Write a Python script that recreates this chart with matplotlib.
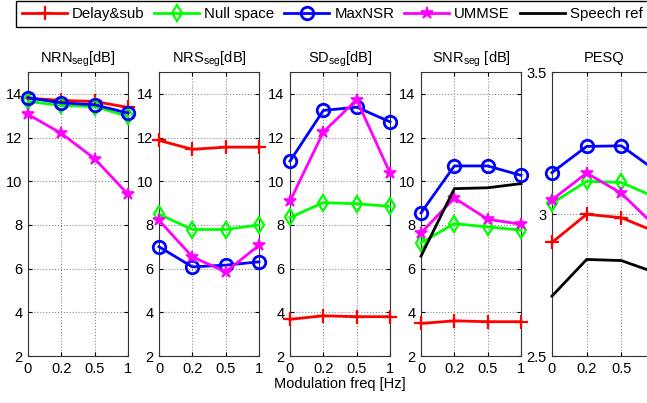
import numpy as np
import matplotlib
matplotlib.use('Agg')
import matplotlib.pyplot as plt

plt.rcParams['font.family'] = ['Liberation Sans', 'DejaVu Sans']
plt.rcParams['font.size'] = 10.5
plt.rcParams['mathtext.fontset'] = 'custom'
plt.rcParams['mathtext.rm'] = 'Liberation Sans'
plt.rcParams['mathtext.it'] = 'Liberation Sans'

freqs = ['0', '0.2', '0.5', '1']
methods = ['Delay&sub', 'Null space', 'MaxNSR', 'UMMSE', 'Speech ref']

# values per panel, order: Delay&sub, Null space, MaxNSR, UMMSE, Speech ref
nrn_seg = [[13.8, 13.7, 13.65, 13.38],
           [13.65, 13.47, 13.42, 12.97],
           [13.82, 13.59, 13.5, 13.12],
           [13.06, 12.19, 11.03, 9.4],
           None]
nrs_seg = [[11.87, 11.46, 11.56, 11.56],
           [8.49, 7.79, 7.79, 8.0],
           [7.0, 6.08, 6.16, 6.31],
           [8.21, 6.54, 5.85, 7.07],
           None]
sd_seg = [[3.68, 3.84, 3.8, 3.8],
          [8.34, 9.02, 8.97, 8.85],
          [10.92, 13.24, 13.39, 12.72],
          [9.09, 12.25, 13.73, 10.38],
          None]
snr_seg = [[3.49, 3.61, 3.57, 3.57],
           [7.18, 8.06, 7.91, 7.76],
           [8.55, 10.7, 10.7, 10.27],
           [7.63, 9.23, 8.26, 8.03],
           [6.57, 9.66, 9.7, 9.89]]
pesq = [[2.9, 2.999, 2.987, 2.937],
        [3.038, 3.115, 3.111, 3.058],
        [3.146, 3.238, 3.24, 3.152],
        [3.05, 3.144, 3.073, 2.954],
        [2.711, 2.84, 2.836, 2.793]]

titles = ['NRN$_{seg}$[dB]', 'NRS$_{seg}$[dB]', 'SD$_{seg}$[dB]', 'SNR$_{seg}$ [dB]', 'PESQ']
panels = [nrn_seg, nrs_seg, sd_seg, snr_seg, pesq]

styles = [dict(color='#ff0000', marker='+', ms=10, mew=1.6),
          dict(color='#00ff00', marker='d', ms=8, mew=1.6, mfc='none'),
          dict(color='#0000ff', marker='o', ms=9, mew=2, mfc='none'),
          dict(color='#ff00ff', marker='*', ms=9, mew=1.2),
          dict(color='black', marker=None)]

W, H = 647, 403
fig = plt.figure(figsize=(W / 100, H / 100), dpi=100)

x = np.arange(len(freqs))
lefts = [28, 159, 290, 421, 552]
handles = []
for k, (data, title) in enumerate(zip(panels, titles)):
    w = 100 if k < 4 else 104
    ax = fig.add_axes([lefts[k] / W, 1 - 356 / H, w / W, 284 / H])
    for i, vals in enumerate(data):
        if vals is None:
            continue
        ln, = ax.plot(x, vals, lw=2, label=methods[i], clip_on=False, zorder=3, **styles[i])
        if k == 4:
            handles.append(ln)
    ax.set_xlim(0, 3)
    ax.set_xticks(x)
    ax.set_xticklabels(freqs)
    if k < 4:
        ax.set_ylim(2, 15)
        ax.set_yticks([2, 4, 6, 8, 10, 12, 14])
    else:
        ax.set_ylim(2.5, 3.5)
        ax.set_yticks([2.5, 3, 3.5])
        ax.set_yticklabels(['2.5', '3', '3.5'])
        # last panel runs past the right edge, its "1" label is off the picture
        ax.get_xticklabels()[-1].set_visible(False)
    ax.grid(True, linestyle=':', color='#888888', lw=0.8)
    ax.tick_params(direction='in', top=True, right=True, length=3, labelsize=10.5, pad=4)
    for s in ax.spines.values():
        s.set_color('#333333')
    ax.set_title(title, fontsize=10.5, pad=7)
    if k == 2:
        ax.set_xlabel('Modulation freq [Hz]', fontsize=10.5, labelpad=1)

leg = fig.legend(handles=handles, labels=methods, loc='upper left',
                 bbox_to_anchor=(16 / W, 1 - 1 / H), borderaxespad=0, ncol=5, fontsize=10.8,
                 handlelength=3.0, handletextpad=0.33, columnspacing=0.66,
                 borderpad=0.4, fancybox=False, framealpha=1, edgecolor='black')
leg.get_frame().set_linewidth(1)

fig.savefig('out.png', dpi=100)
